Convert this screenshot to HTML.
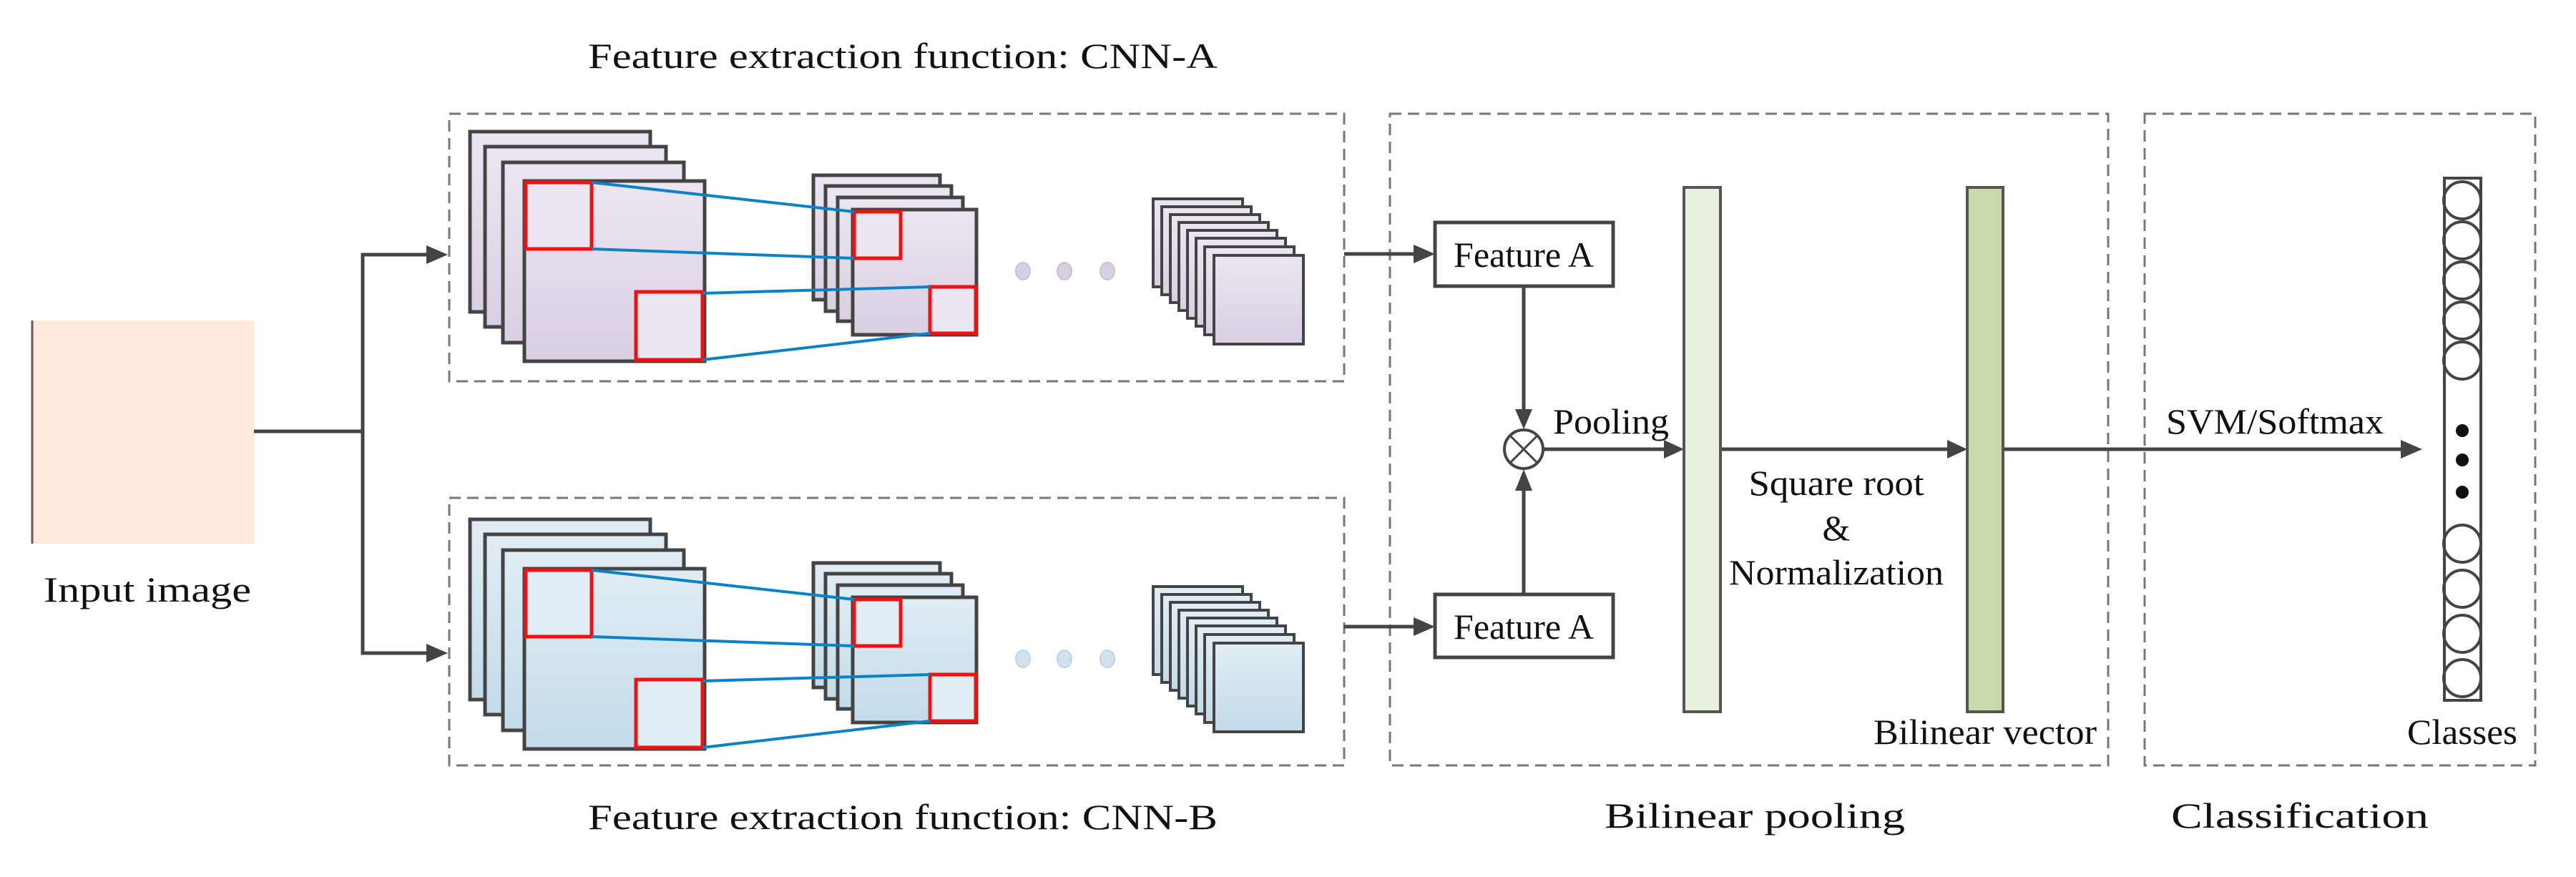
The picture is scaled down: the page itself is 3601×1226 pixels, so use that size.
<!DOCTYPE html>
<html><head><meta charset="utf-8"><style>
html,body{margin:0;padding:0;background:#fff;}
svg{display:block;}
svg text{font-family:"Liberation Serif","DejaVu Serif",serif !important;fill:#111;}
</style></head><body>
<svg width="3601" height="1226" viewBox="0 0 3601 1226" xmlns="http://www.w3.org/2000/svg" font-family="'Liberation Serif', 'DejaVu Serif', serif">
<defs>
<linearGradient id="ga" x1="0" y1="0" x2="0" y2="1"><stop offset="0" stop-color="#ebe6f1"/><stop offset="1" stop-color="#d9cfe2"/></linearGradient>
<linearGradient id="gb" x1="0" y1="0" x2="0" y2="1"><stop offset="0" stop-color="#e0edf4"/><stop offset="1" stop-color="#c3dbe9"/></linearGradient>
</defs>

<!-- Titles -->
<text x="1262" y="95" font-size="50" text-anchor="middle" textLength="880" lengthAdjust="spacingAndGlyphs">Feature extraction function: CNN-A</text>
<text x="1262" y="1159" font-size="50" text-anchor="middle" textLength="880" lengthAdjust="spacingAndGlyphs">Feature extraction function: CNN-B</text>
<text x="2453" y="1157" font-size="50" text-anchor="middle" textLength="420" lengthAdjust="spacingAndGlyphs">Bilinear pooling</text>
<text x="3215" y="1157" font-size="50" text-anchor="middle" textLength="360" lengthAdjust="spacingAndGlyphs">Classification</text>

<!-- Input image -->
<rect x="44" y="448" width="311" height="312" fill="#fde8db"/>
<line x1="45" y1="448" x2="45" y2="760" stroke="#6a5a55" stroke-width="3"/>
<text x="206" y="841" font-size="50" text-anchor="middle" textLength="290" lengthAdjust="spacingAndGlyphs">Input image</text>

<g stroke="#444" stroke-width="5" fill="none">
  <polyline points="355,603 507,603"/>
  <polyline points="600,356 507,356 507,913 600,913"/>
</g>
<g fill="#444">
  <polygon points="626,356 596,343 596,369"/>
  <polygon points="626,913 596,900 596,926"/>
</g>

<g fill="none" stroke="#777" stroke-width="3" stroke-dasharray="16,9">
  <rect x="628" y="159" width="1251" height="374"/>
  <rect x="628" y="696" width="1251" height="374"/>
  <rect x="1943" y="159" width="1004" height="911"/>
  <rect x="2998" y="159" width="546" height="911"/>
</g>

<!-- CNN A -->
<g>
  <g stroke="#444" stroke-width="5">
    <rect x="657" y="184" width="252" height="252" fill="url(#ga)"/>
    <rect x="678" y="205" width="253" height="252" fill="url(#ga)"/>
    <rect x="703" y="227" width="253" height="252" fill="url(#ga)"/>
    <rect x="733" y="253" width="252" height="252" fill="url(#ga)"/>
  </g>
  <rect x="735" y="255" width="92" height="93" fill="#ebe6f1" stroke="#f21010" stroke-width="5"/>
  <rect x="889" y="408" width="93" height="95" fill="#ebe6f1" stroke="#f21010" stroke-width="5"/>
  <g stroke="#444" stroke-width="5">
    <rect x="1137" y="245" width="177" height="174" fill="url(#ga)"/>
    <rect x="1154" y="260" width="176" height="175" fill="url(#ga)"/>
    <rect x="1171" y="276" width="175" height="173" fill="url(#ga)"/>
    <rect x="1192" y="293" width="173" height="175" fill="url(#ga)"/>
  </g>
  <rect x="1194" y="296" width="65" height="65" fill="#ebe6f1" stroke="#f21010" stroke-width="5"/>
  <rect x="1300" y="401" width="64" height="65" fill="#ebe6f1" stroke="#f21010" stroke-width="5"/>
  <g stroke="#0a82c8" stroke-width="4">
    <line x1="827" y1="255" x2="1194" y2="296"/>
    <line x1="827" y1="348" x2="1194" y2="361"/>
    <line x1="982" y1="410" x2="1300" y2="401"/>
    <line x1="982" y1="503" x2="1300" y2="466"/>
  </g>
  <g fill="#d8d0e2" stroke="#c8c0d4" stroke-width="2">
    <ellipse cx="1430" cy="379" rx="10" ry="12"/>
    <ellipse cx="1488" cy="379" rx="10" ry="12"/>
    <ellipse cx="1548" cy="379" rx="10" ry="12"/>
  </g>
  <g stroke="#444" stroke-width="4" fill="url(#ga)">
    <rect x="1612" y="278" width="125" height="123"/>
    <rect x="1624" y="289" width="125" height="123"/>
    <rect x="1636" y="300" width="125" height="123"/>
    <rect x="1648" y="311" width="125" height="123"/>
    <rect x="1660" y="322" width="125" height="123"/>
    <rect x="1672" y="333" width="125" height="123"/>
    <rect x="1684" y="345" width="125" height="123"/>
    <rect x="1697" y="357" width="125" height="124"/>
  </g>
</g>

<!-- CNN B -->
<g transform="translate(0,542)">
  <g stroke="#444" stroke-width="5">
    <rect x="657" y="184" width="252" height="252" fill="url(#gb)"/>
    <rect x="678" y="205" width="253" height="252" fill="url(#gb)"/>
    <rect x="703" y="227" width="253" height="252" fill="url(#gb)"/>
    <rect x="733" y="253" width="252" height="252" fill="url(#gb)"/>
  </g>
  <rect x="735" y="255" width="92" height="93" fill="#e0edf4" stroke="#f21010" stroke-width="5"/>
  <rect x="889" y="408" width="93" height="95" fill="#e0edf4" stroke="#f21010" stroke-width="5"/>
  <g stroke="#444" stroke-width="5">
    <rect x="1137" y="245" width="177" height="174" fill="url(#gb)"/>
    <rect x="1154" y="260" width="176" height="175" fill="url(#gb)"/>
    <rect x="1171" y="276" width="175" height="173" fill="url(#gb)"/>
    <rect x="1192" y="293" width="173" height="175" fill="url(#gb)"/>
  </g>
  <rect x="1194" y="296" width="65" height="65" fill="#e0edf4" stroke="#f21010" stroke-width="5"/>
  <rect x="1300" y="401" width="64" height="65" fill="#e0edf4" stroke="#f21010" stroke-width="5"/>
  <g stroke="#0a82c8" stroke-width="4">
    <line x1="827" y1="255" x2="1194" y2="296"/>
    <line x1="827" y1="348" x2="1194" y2="361"/>
    <line x1="982" y1="410" x2="1300" y2="401"/>
    <line x1="982" y1="503" x2="1300" y2="466"/>
  </g>
  <g fill="#d0e2ee" stroke="#c0d4e2" stroke-width="2">
    <ellipse cx="1430" cy="379" rx="10" ry="12"/>
    <ellipse cx="1488" cy="379" rx="10" ry="12"/>
    <ellipse cx="1548" cy="379" rx="10" ry="12"/>
  </g>
  <g stroke="#444" stroke-width="4" fill="url(#gb)">
    <rect x="1612" y="278" width="125" height="123"/>
    <rect x="1624" y="289" width="125" height="123"/>
    <rect x="1636" y="300" width="125" height="123"/>
    <rect x="1648" y="311" width="125" height="123"/>
    <rect x="1660" y="322" width="125" height="123"/>
    <rect x="1672" y="333" width="125" height="123"/>
    <rect x="1684" y="345" width="125" height="123"/>
    <rect x="1697" y="357" width="125" height="124"/>
  </g>
</g>

<!-- Bilinear pooling -->
<g stroke="#444" stroke-width="5" fill="none">
  <line x1="1879" y1="355" x2="1980" y2="355"/>
  <line x1="1879" y1="876" x2="1980" y2="876"/>
  <line x1="2130" y1="400" x2="2130" y2="575"/>
  <line x1="2130" y1="831" x2="2130" y2="683"/>
  <line x1="2158" y1="628" x2="2330" y2="628"/>
  <line x1="2405" y1="628" x2="2725" y2="628"/>
  <line x1="2800" y1="628" x2="3360" y2="628"/>
</g>
<g fill="#444">
  <polygon points="2006,355 1976,342 1976,368"/>
  <polygon points="2006,876 1976,863 1976,889"/>
  <polygon points="2130,600 2118,572 2142,572"/>
  <polygon points="2130,656 2118,686 2142,686"/>
  <polygon points="2354,628 2326,615 2326,641"/>
  <polygon points="2750,628 2722,615 2722,641"/>
  <polygon points="3386,628 3356,615 3356,641"/>
</g>
<rect x="2006" y="311" width="249" height="89" fill="#fff" stroke="#444" stroke-width="5"/>
<rect x="2006" y="831" width="249" height="88" fill="#fff" stroke="#444" stroke-width="5"/>
<text x="2130" y="373" font-size="50" text-anchor="middle" textLength="196" lengthAdjust="spacingAndGlyphs">Feature A</text>
<text x="2130" y="893" font-size="50" text-anchor="middle" textLength="196" lengthAdjust="spacingAndGlyphs">Feature A</text>
<circle cx="2130" cy="628" r="27" fill="#fff" stroke="#444" stroke-width="4"/>
<line x1="2111" y1="609" x2="2149" y2="647" stroke="#444" stroke-width="3"/>
<line x1="2149" y1="609" x2="2111" y2="647" stroke="#444" stroke-width="3"/>
<text x="2171" y="606" font-size="50" textLength="162" lengthAdjust="spacingAndGlyphs">Pooling</text>

<rect x="2354" y="262" width="51" height="733" fill="#e8f0de" stroke="#555" stroke-width="4"/>
<rect x="2750" y="262" width="50" height="733" fill="#c9d9a9" stroke="#555" stroke-width="4"/>
<text x="2567" y="692" font-size="50" text-anchor="middle" textLength="245" lengthAdjust="spacingAndGlyphs">Square root</text>
<text x="2567" y="755" font-size="50" text-anchor="middle">&amp;</text>
<text x="2567" y="817" font-size="50" text-anchor="middle" textLength="300" lengthAdjust="spacingAndGlyphs">Normalization</text>
<text x="2619" y="1040" font-size="50" textLength="312" lengthAdjust="spacingAndGlyphs">Bilinear vector</text>

<!-- Classification -->
<text x="3028" y="606" font-size="50" textLength="304" lengthAdjust="spacingAndGlyphs">SVM/Softmax</text>
<rect x="3417" y="249" width="51" height="730" fill="#fff" stroke="#444" stroke-width="4"/>
<g fill="none" stroke="#444" stroke-width="4">
  <circle cx="3442" cy="280" r="26"/>
  <circle cx="3442" cy="336" r="26"/>
  <circle cx="3442" cy="392" r="26"/>
  <circle cx="3442" cy="448" r="26"/>
  <circle cx="3442" cy="504" r="26"/>
  <circle cx="3442" cy="760" r="26"/>
  <circle cx="3442" cy="823" r="26"/>
  <circle cx="3442" cy="886" r="26"/>
  <circle cx="3442" cy="948" r="26"/>
</g>
<g fill="#111">
  <circle cx="3442" cy="602" r="9"/>
  <circle cx="3442" cy="643" r="9"/>
  <circle cx="3442" cy="688" r="9"/>
</g>
<text x="3365" y="1040" font-size="50" textLength="154" lengthAdjust="spacingAndGlyphs">Classes</text>
</svg>
</body></html>
